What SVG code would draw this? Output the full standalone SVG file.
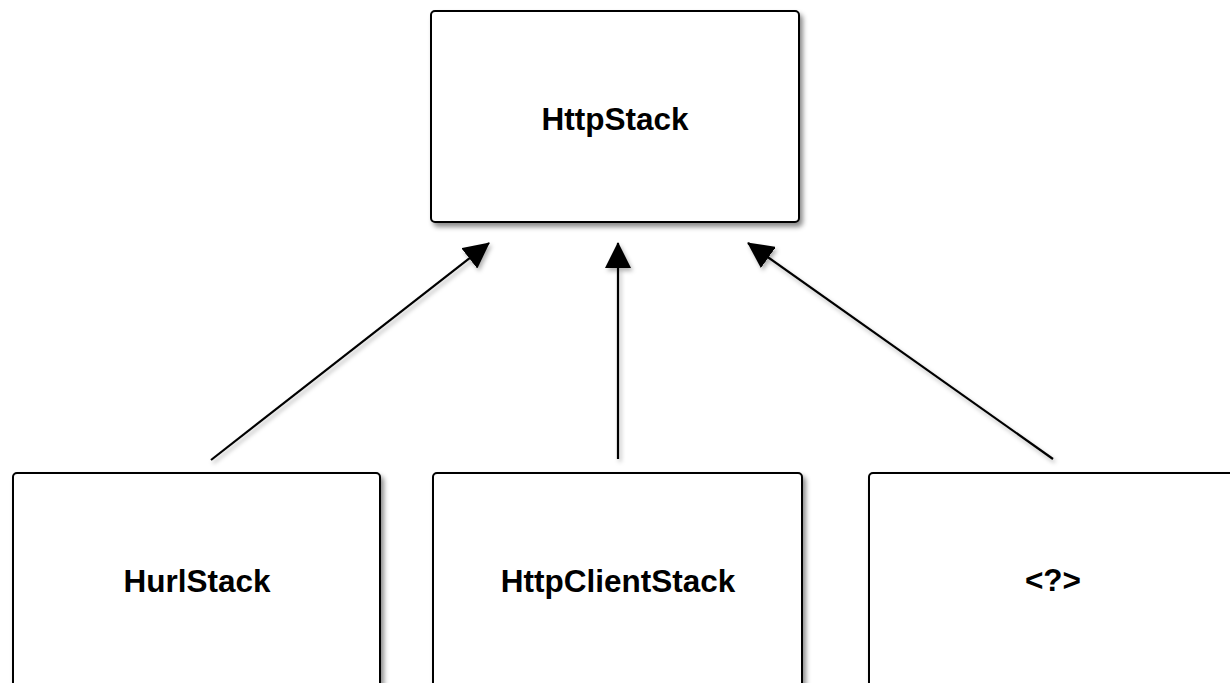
<svg xmlns="http://www.w3.org/2000/svg" width="1230" height="683" viewBox="0 0 1230 683">
<style>
.box{fill:#fff;stroke:#000;stroke-width:2;filter:url(#sh)}
.lbl{font-family:"Liberation Sans",Arial,sans-serif;font-weight:bold;font-size:31.5px;text-anchor:middle;fill:#000}
.conn{stroke:#000;stroke-width:2.2;fill:none;marker-end:url(#ah)}
</style>
<defs>
<filter id="sh" x="-10%" y="-10%" width="125%" height="125%">
<feDropShadow dx="3" dy="4" stdDeviation="2.5" flood-color="#000" flood-opacity="0.45"/>
</filter>
<filter id="sh2" filterUnits="userSpaceOnUse" x="0" y="0" width="1230" height="683">
<feDropShadow dx="2" dy="3" stdDeviation="2" flood-color="#000" flood-opacity="0.3"/>
</filter>
<marker id="ah" viewBox="0 0 26 26" refX="25" refY="13" markerWidth="26" markerHeight="26" markerUnits="userSpaceOnUse" orient="auto">
<path d="M0,0 L26,13 L0,26 Z" fill="#000"/>
</marker>
</defs>
<rect width="1230" height="683" fill="#fff"/>
<g id="httpstack">
<rect class="box" x="431" y="11" width="368" height="211" rx="4"/>
<text class="lbl" x="615" y="130">HttpStack</text>
</g>
<g id="hurlstack">
<rect class="box" x="13" y="473" width="367" height="240" rx="4"/>
<text class="lbl" x="197" y="592">HurlStack</text>
</g>
<g id="httpclientstack">
<rect class="box" x="433" y="473" width="369" height="240" rx="4"/>
<text class="lbl" x="618" y="592">HttpClientStack</text>
</g>
<g id="unknown">
<rect class="box" x="869" y="473" width="369" height="240" rx="4"/>
<text class="lbl" x="1053" y="591">&lt;?&gt;</text>
</g>
<g id="connectors" filter="url(#sh2)">
<line class="conn" x1="211" y1="460" x2="489" y2="243"/>
<line class="conn" x1="618" y1="459" x2="618" y2="243"/>
<line class="conn" x1="1053" y1="459" x2="748" y2="243"/>
</g>
</svg>
